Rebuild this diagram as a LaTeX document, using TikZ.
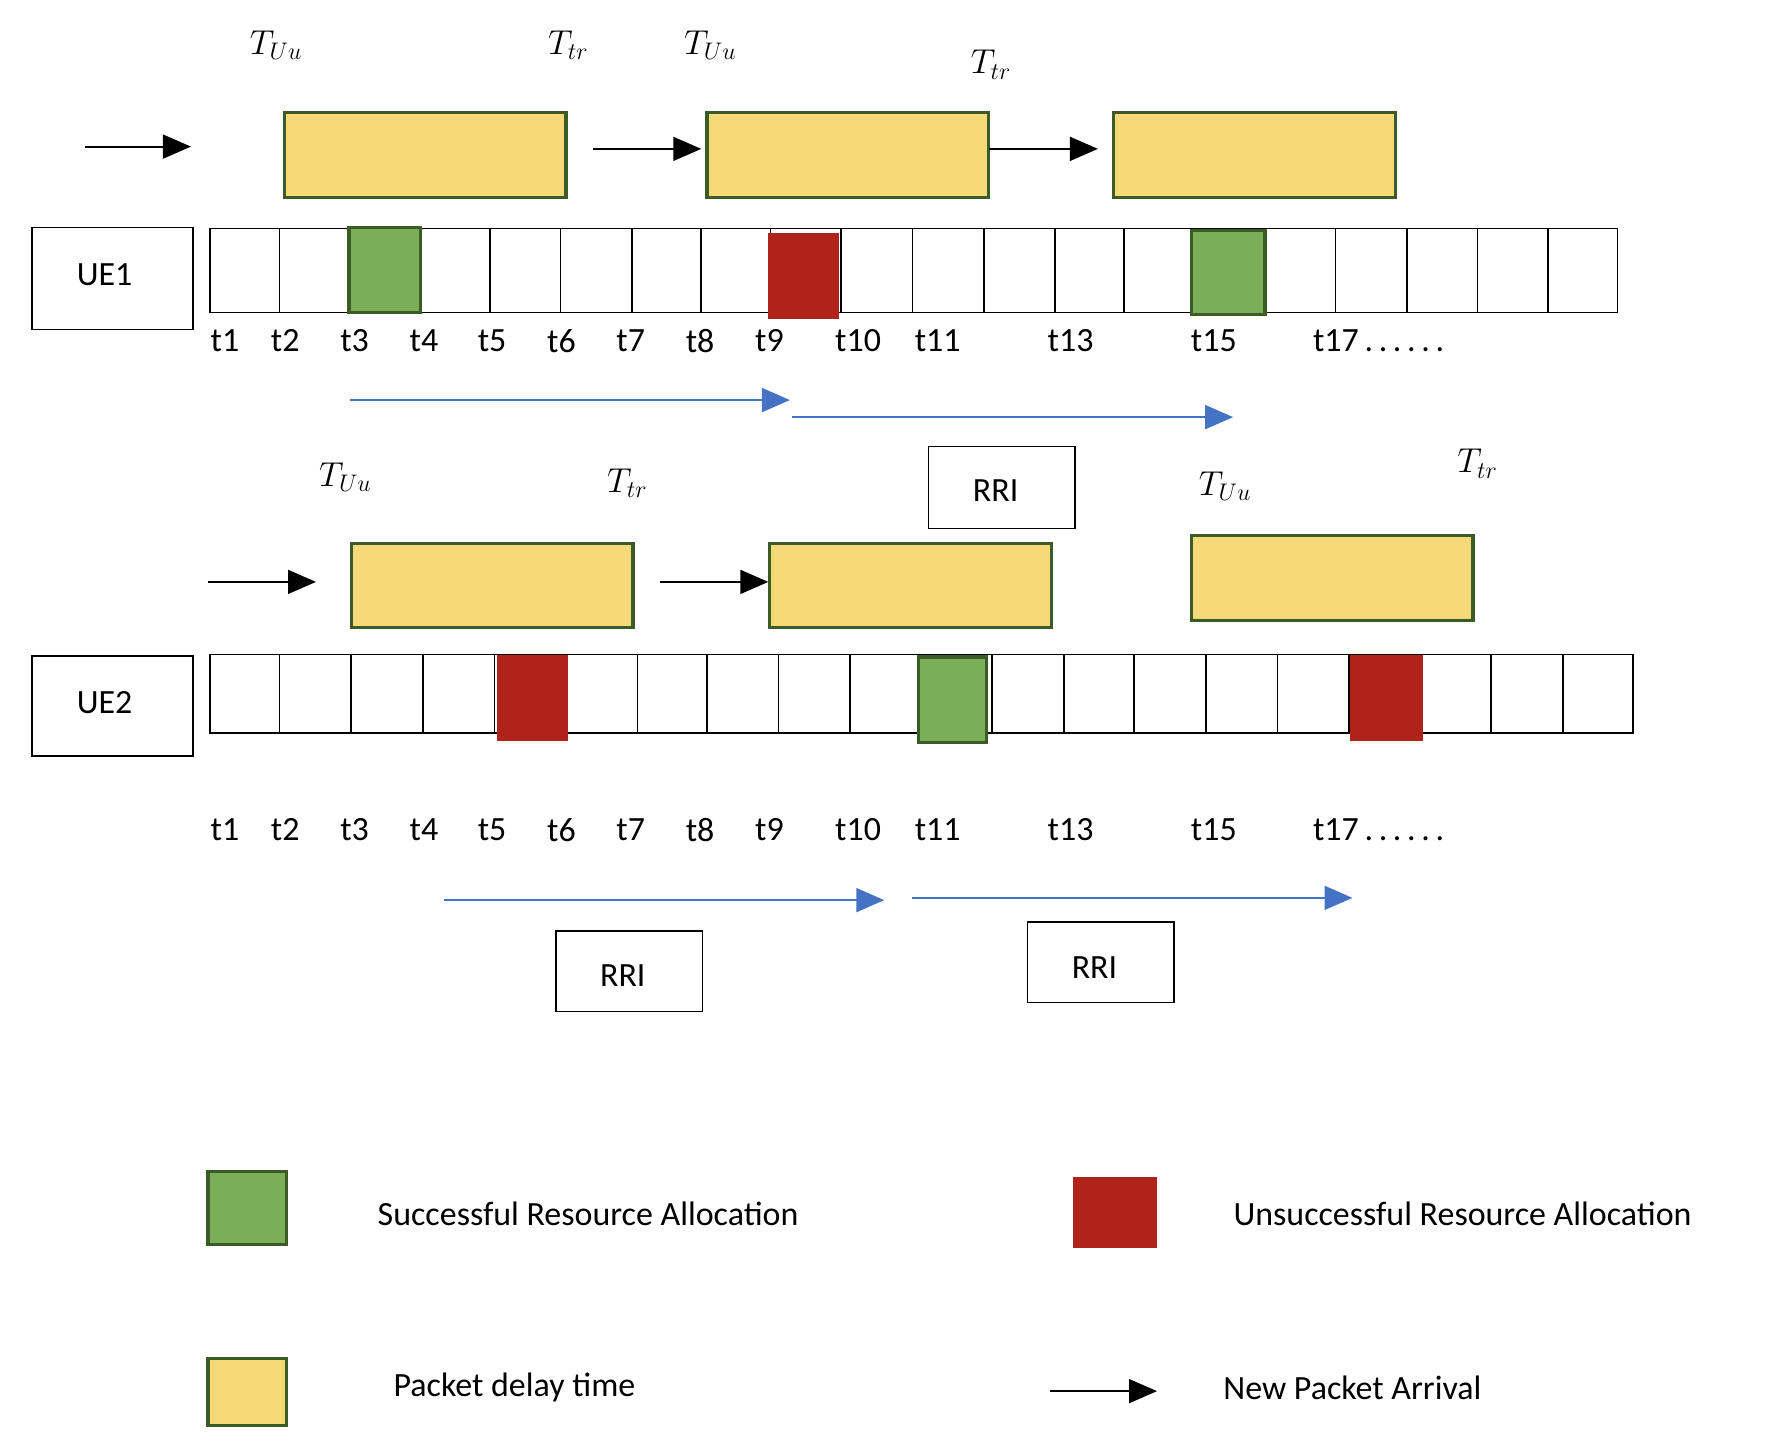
\documentclass[tikz,border=0pt]{standalone}
\usepackage{fontspec}
\setmainfont{Carlito}
\usetikzlibrary{arrows.meta}
\definecolor{yel}{HTML}{F8D978}
\definecolor{bord}{HTML}{3B5B27}
\definecolor{grn}{HTML}{7BAE58}
\definecolor{rd}{HTML}{B0231B}
\definecolor{blu}{HTML}{4472C4}
\begin{document}
\begin{tikzpicture}[x=0.02cm,y=-0.02cm,
  txt/.style={font=\fontsize{17}{20}\selectfont,inner sep=0pt},
  mt/.style={font=\fontsize{18}{20}\selectfont,inner sep=0pt},
  pk/.style={draw=bord,line width=1.6pt,fill=yel},
  ok/.style={draw=bord,line width=1.6pt,fill=grn},
  bad/.style={fill=rd},
  cell/.style={draw=black,line width=0.8pt},
  box/.style={draw=black,line width=0.8pt},
  arr/.style={-{Triangle[length=14pt,width=12pt]},line width=0.9pt},
  barr/.style={-{Triangle[length=14pt,width=12pt]},draw=blu,line width=0.9pt}]
\useasboundingbox (0,0) rectangle (1560,1268);
% Row 1 labels
\node[mt] (a1) at (243,40) {$T_{Uu}$};
\node[mt] (a2) at (500,40) {$T_{tr}$};
\node[mt] (a3) at (625,40) {$T_{Uu}$};
\node[mt] (a4) at (872,57) {$T_{tr}$};
\draw[pk] (250,99) rectangle (498,174);
\draw[pk] (622,99) rectangle (870,174);
\draw[pk] (980,99) rectangle (1228,174);
\coordinate (p1) at (75,129); \coordinate (q1) at (168,129);
\coordinate (p2) at (522,131); \coordinate (q2) at (617,131);
\coordinate (p3) at (870,131); \coordinate (q3) at (966,131);
\draw[arr] (p1)--(q1); \draw[arr] (p2)--(q2); \draw[arr] (p3)--(q3);
\draw[box] (28,200) rectangle (170,290);
\node[txt] (ue1) at (92,242) {UE1};
\foreach \a/\b in {185/246,246/307,307/370,370/431,431/493,493/556,556/617,617/678,678/740,740/803,803/866,866/928,928/989,989/1050,1050/1113,1113/1175,1175/1238,1238/1300,1300/1362,1362/1423}
  \draw[cell] (\a,201) rectangle (\b,275);
\draw[ok] (307,200) rectangle (370,275);
\fill[rd] (676,205) rectangle (738,281);
\draw[ok] (1048,203) rectangle (1113,277);
\foreach \x/\t in {198/t1,251/t2,312/t3,373/t4,433/t5,494/t6,555/t7,616/t8,677/t9,755/t10,825/t11,942/t13,1068/t15}
  \node[txt] at (\x,300) {\t};
\node[txt,anchor=west] at (1155,300) {t17\,.\,.\,.\,.\,.\,.};
\coordinate (b1) at (308,352); \coordinate (c1) at (695,352);
\coordinate (b2) at (697,367); \coordinate (c2) at (1085,367);
\draw[barr] (b1)--(c1); \draw[barr] (b2)--(c2);
\draw[box] (817,393) rectangle (946,465);
\node[txt] (r1) at (876,432) {RRI};
% Row 2
\node[mt] at (304,420) {$T_{Uu}$};
\node[mt] at (552,425) {$T_{tr}$};
\node[mt] at (1078,428) {$T_{Uu}$};
\node[mt] at (1300,408) {$T_{tr}$};
\draw[pk] (309,478) rectangle (557,552);
\draw[pk] (677,478) rectangle (925,552);
\draw[pk] (1048,471) rectangle (1296,546);
\coordinate (p4) at (183,512); \coordinate (q4) at (278,512);
\coordinate (p5) at (581,512); \coordinate (q5) at (676,512);
\draw[arr] (p4)--(q4); \draw[arr] (p5)--(q5);
\draw[box] (28,577) rectangle (170,665);
\node[txt] (ue2) at (92,618) {UE2};
\foreach \a/\b in {185/246,246/309,309/372,372/435,435/498,498/561,561/622,622/685,685/748,748/810,810/873,873/936,936/998,998/1061,1061/1124,1124/1187,1187/1250,1250/1312,1312/1375,1375/1437}
  \draw[cell] (\a,576) rectangle (\b,645);
\fill[rd] (437,576) rectangle (500,652);
\draw[ok] (808,578) rectangle (868,653);
\fill[rd] (1188,576) rectangle (1252,652);
\foreach \x/\t in {198/t1,251/t2,312/t3,373/t4,433/t5,494/t6,555/t7,616/t8,677/t9,755/t10,825/t11,942/t13,1068/t15}
  \node[txt] at (\x,730) {\t};
\node[txt,anchor=west] at (1155,730) {t17\,.\,.\,.\,.\,.\,.};
\coordinate (b3) at (391,792); \coordinate (c3) at (778,792);
\coordinate (b4) at (802,790); \coordinate (c4) at (1190,790);
\draw[barr] (b3)--(c3); \draw[barr] (b4)--(c4);
\draw[box] (489,819) rectangle (618,890);
\node[txt] (r2) at (548,858) {RRI};
\draw[box] (904,811) rectangle (1033,882);
\node[txt] (r3) at (963,851) {RRI};
% Legend
\draw[ok] (183,1031) rectangle (252,1095);
\node[txt,anchor=west] (l1) at (332,1068) {Successful Resource Allocation};
\fill[rd] (944,1036) rectangle (1018,1098);
\node[txt,anchor=west] (l2) at (1085,1068) {Unsuccessful Resource Allocation};
\draw[pk] (183,1195) rectangle (252,1254);
\node[txt,anchor=west] (l3) at (346,1221) {Packet delay time};
\coordinate (p6) at (924,1224); \coordinate (q6) at (1018,1224);
\draw[arr] (p6)--(q6);
\node[txt,anchor=west] (l4) at (1076,1221) {New Packet Arrival};
\end{tikzpicture}
\end{document}
